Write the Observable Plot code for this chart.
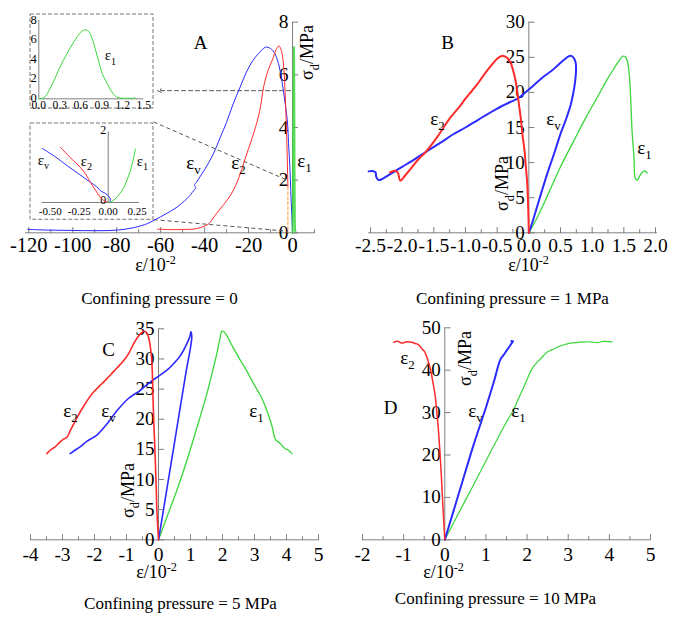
<!DOCTYPE html>
<html><head><meta charset="utf-8">
<script src="https://cdn.jsdelivr.net/npm/d3@7"></script>
<script src="https://cdn.jsdelivr.net/npm/@observablehq/plot@0.6"></script>
<style>
body{margin:0;background:#fff;}
#fig{position:relative;width:685px;height:621px;overflow:hidden;background:#fff;}
</style></head><body><div id="fig"></div>
<script>
// ---------- DATA (strain ×10^-2, deviatoric stress MPa) ----------
// Panel A: confining pressure = 0
const aEv = [[-120.5,0.13],[-110,0.1],[-100,0.09],[-90,0.08],[-80,0.1],[-72,0.2],[-66,0.35],[-62,0.52],[-58,0.7],[-53,0.95],[-48,1.3],[-45,1.6],[-44,1.72],[-44.6,1.8],[-43.5,1.95],[-40,2.4],[-36,3.0],[-33,3.6],[-30,4.2],[-27,4.9],[-24,5.5],[-21,6.1],[-18,6.55],[-15,6.85],[-12.3,7.05],[-10,7.0],[-8,6.8],[-6,6.3],[-4.7,5.7],[-3.5,5.0],[-2.4,4.3],[-1.8,3.4],[-1.2,2.5],[-0.8,1.6],[-0.4,0.8],[0,0]];
const aE2 = [[-61.5,0.14],[-55,0.12],[-50,0.13],[-45,0.14],[-41.8,0.2],[-38,0.35],[-35.8,0.6],[-33,0.9],[-29.7,1.25],[-27,1.6],[-24.4,2.1],[-22,2.7],[-20,3.2],[-17.6,3.8],[-15,4.6],[-13,5.6],[-11,6.2],[-9,6.6],[-7.5,6.95],[-6.2,7.1],[-5,6.9],[-4,6.3],[-3.3,5.2],[-2.7,3.8],[-2.3,2.5],[-2.1,1.75]];
const aE2tail = [[-2.1,1.75],[-2.1,0]];
const aE1 = [[0,0],[0.05,0.05],[0.1,0.3],[0.15,0.9],[0.2,1.6],[0.3,3.2],[0.4,4.6],[0.5,5.8],[0.6,6.8],[0.66,7.05],[0.71,6.9],[0.76,6.2],[0.81,5.0],[0.86,3.7],[0.91,2.5],[0.96,1.8],[1.01,1.1],[1.06,0.55],[1.11,0.2],[1.16,0.08],[1.25,0.05],[1.38,0.07]];
// Panel A lower inset (near origin)
const iEv = [[-0.569,1.53],[-0.45,1.28],[-0.353,1.04],[-0.25,0.8],[-0.153,0.57],[-0.1,0.45],[-0.066,0.33],[-0.03,0.27],[-0.01,0.22],[0.01,0.15],[0.02,0.07],[0.01,0]];
const iE2 = [[-0.411,1.56],[-0.33,1.28],[-0.239,0.99],[-0.19,0.78],[-0.153,0.57],[-0.11,0.35],[-0.066,0.14],[-0.03,0.04],[0,0]];
const iE1 = [[0,0],[0.03,0.03],[0.06,0.1],[0.1,0.25],[0.134,0.42],[0.17,0.7],[0.2,1.0],[0.235,1.51]];
// Panel B: 1 MPa
const bE2 = [[-2.19,8.6],[-2.12,8.85],[-2.07,8.6],[-2.03,7.45],[-1.95,8.2],[-1.85,9.3],[-1.75,10.4],[-1.63,11.5],[-1.45,13.6],[-1.24,16.4],[-1.1,17.9],[-1.0,19.1],[-0.9,20.2],[-0.82,21.1],[-0.74,22.1],[-0.66,23.1],[-0.58,24.0],[-0.5,24.8],[-0.44,25.15],[-0.4,25.2],[-0.34,24.9],[-0.29,24.3],[-0.25,23.2],[-0.21,21.7],[-0.17,19.2],[-0.13,16.5],[-0.1,14.0],[-0.068,11.7],[-0.045,9.2],[-0.025,7.0],[-0.01,3.5],[0,0]];
const bEv = [[-2.53,8.75],[-2.47,8.8],[-2.42,8.6],[-2.41,8.0],[-2.38,7.55],[-2.33,7.6],[-2.2,8.3],[-2.0,9.4],[-1.8,10.5],[-1.63,11.5],[-1.4,12.8],[-1.2,14.0],[-1.0,15.0],[-0.8,16.1],[-0.5,17.7],[-0.3,18.6],[-0.18,19.1],[-0.08,19.8],[0,20.4],[0.1,21.2],[0.24,22.3],[0.35,23.0],[0.45,23.8],[0.55,24.6],[0.62,25.1],[0.67,25.2],[0.71,24.9],[0.74,24.2],[0.745,23.0],[0.73,21.5],[0.7,19.8],[0.66,18.2],[0.58,16.0],[0.5,14.1],[0.4,11.3],[0.29,8.4],[0.2,5.8],[0.13,3.7],[0.06,1.6],[0,0]];
const bE1 = [[0,0],[0.1,1.6],[0.3,5.4],[0.5,9.4],[0.71,13.1],[0.9,16.4],[1.1,19.6],[1.24,21.9],[1.35,23.5],[1.43,24.6],[1.48,25.15],[1.52,25.1],[1.56,24.3],[1.59,22.0],[1.61,18.8],[1.63,14.5],[1.66,10.8],[1.68,7.8],[1.71,7.5],[1.75,8.1],[1.8,8.7],[1.84,8.8],[1.87,8.5]];
// Panel C: 5 MPa
const cE2 = [[-3.49,14.3],[-3.35,15.0],[-3.23,15.4],[-3.1,16.1],[-2.97,16.7],[-2.86,17.0],[-2.76,18.1],[-2.6,19.7],[-2.45,21.2],[-2.25,22.9],[-2.03,24.5],[-1.75,26.0],[-1.51,27.3],[-1.3,28.5],[-1.09,29.7],[-0.92,31.0],[-0.78,32.5],[-0.65,33.6],[-0.52,34.4],[-0.45,34.6],[-0.36,34.3],[-0.31,33.6],[-0.25,31.8],[-0.21,29.7],[-0.18,25.5],[-0.16,21.4],[-0.13,17.3],[-0.1,13.2],[-0.07,8.5],[-0.05,4.9],[-0.02,1.8],[0,0]];
const cEv = [[-2.76,14.3],[-2.6,14.9],[-2.45,15.4],[-2.25,16.3],[-2.03,17.0],[-1.9,17.5],[-1.6,19.3],[-1.3,21.4],[-0.95,23.4],[-0.57,24.8],[-0.25,26.2],[0.05,27.3],[0.3,28.3],[0.47,29.2],[0.65,30.3],[0.78,31.4],[0.9,32.7],[0.99,33.9],[1.01,34.5],[1.04,33.6],[0.86,27.8],[0.68,22.0],[0.5,16.1],[0.32,10.3],[0.15,4.8],[0,0]];
const cE1 = [[0,0],[0.3,4.3],[0.6,8.6],[0.89,13.2],[1.2,18.6],[1.51,24.2],[1.7,28.2],[1.82,30.8],[1.92,33.4],[1.98,34.6],[2.05,34.5],[2.13,33.9],[2.3,32.2],[2.5,30.3],[2.75,28.1],[2.97,25.9],[3.2,23.8],[3.39,21.4],[3.55,18.8],[3.65,16.7],[3.8,16.0],[3.96,15.1],[4.05,14.9],[4.17,14.3]];
// Panel D: 10 MPa
const dE2 = [[-1.24,46.6],[-1.15,46.8],[-1.05,46.4],[-0.92,46.7],[-0.8,46.6],[-0.72,46.3],[-0.67,46.2],[-0.6,45.6],[-0.55,45.0],[-0.5,44.5],[-0.45,43.5],[-0.4,42.0],[-0.35,40.3],[-0.3,37.8],[-0.24,34.4],[-0.2,30.8],[-0.16,26.6],[-0.13,22.5],[-0.105,18.7],[-0.08,14.5],[-0.057,10.1],[-0.03,5.2],[0,0]];
const dEv = [[0,0],[0.35,11.2],[0.7,22.4],[1.0,31.2],[1.2,37.5],[1.35,42.5],[1.43,43.6],[1.5,44.6],[1.56,45.4],[1.62,46.3],[1.64,46.6],[1.62,46.9],[1.66,46.8]];
const dE1 = [[0,0],[0.3,5.6],[0.7,13.0],[1.0,18.6],[1.3,24.2],[1.5,27.8],[1.68,30.8],[1.8,33.5],[1.92,36.0],[2.02,38.3],[2.12,40.3],[2.22,41.6],[2.33,42.7],[2.49,44.3],[2.6,44.8],[2.73,45.4],[2.9,46.0],[3.14,46.5],[3.3,46.6],[3.54,46.7],[3.7,46.5],[3.85,46.8],[4.07,46.7]];

// ---------- TICKS / LABELS ----------
const aXTicks = [-120,-100,-80,-60,-40,-20,0];
const aXMinor = [-110,-90,-70,-50,-30,-10,10];
const aYTicks = [0,2,4,6,8];
const bXTicks = [-2.5,-2.0,-1.5,-1.0,-0.5,0,0.5,1.0,1.5,2.0];
const bXMinor = [-2.25,-1.75,-1.25,-0.75,-0.25,0.25,0.75,1.25,1.75];
const bYTicks = [0,5,10,15,20,25,30];
const cXTicks = [-4,-3,-2,-1,0,1,2,3,4,5];
const cXMinor = [-3.5,-2.5,-1.5,-0.5,0.5,1.5,2.5,3.5,4.5];
const cYTicks = [0,5,10,15,20,25,30,35];
const dXTicks = [-2,-1,0,1,2,3,4,5];
const dXMinor = [-1.5,-0.5,0.5,1.5,2.5,3.5,4.5];
const dYTicks = [0,10,20,30,40,50];
const in1XTicks = [0,0.3,0.6,0.9,1.2,1.5];
const in1YTicks = [0,2,4,6,8];
const in2XTicks = [-0.5,-0.25,0,0.25];
const in2YTicks = [0,2];
const captions = ["Confining pressure = 0","Confining pressure = 1 MPa","Confining pressure = 5 MPa","Confining pressure = 10 MPa"];
const panelLetters = ["A","B","C","D"];
const xTitle = "ε/10^{-2}";
const yTitle = "σ_d/MPa";

// ---------- STYLE ----------
const RED="#ff2b2b", BLUE="#2b2bff", GREEN="#3ad63a", AX="#808080";
const FONT='"Liberation Serif","Times New Roman",Times,serif';
const fig = document.getElementById("fig");
const xy = {x: d => d[0], y: d => d[1]};

function axisMarks(P){
  const m = [Plot.ruleY([0],{stroke:AX}), Plot.ruleX([0],{stroke:AX})];
  const tick = (arr,len,rot,xf,yf) => Plot.vector(arr,{x:xf,y:yf,length:len,rotate:rot,anchor:"start",r:0,stroke:AX,strokeWidth:1});
  if (P.xMinor) m.push(tick(P.xMinor,3,0,d=>d,()=>0));
  if (P.tickMarks !== false){
    m.push(tick(P.xTicks,5,0,d=>d,()=>0));
    m.push(tick(P.yTicks,5,90,()=>0,d=>d));
  }
  m.push(Plot.text(P.xTicks,{x:d=>d,y:()=>0,text:P.fmtX,textAnchor:"middle",lineAnchor:"top",dy:P.xdy,fontSize:P.fs,fill:"black"}));
  m.push(Plot.text(P.yTicks,{x:()=>0,y:d=>d,text:d=>String(d),textAnchor:"end",lineAnchor:P.yLine||"middle",dx:P.ydx,dy:P.ydy||0,fontSize:P.yfs||P.fs,fill:"black"}));
  return m;
}
function lab(P,text,px,py,o={}){
  return Plot.text([text],{frameAnchor:"top-left",text:d=>d,textAnchor:"middle",lineAnchor:"middle",
    dx:px-P.fx0,dy:py-P.fy0,fontSize:18,fill:"black",...o});
}
function build(P, pre, marks){
  const svg = Plot.plot({
    width:P.w, height:P.h,
    marginLeft:P.fx0-P.left, marginRight:P.left+P.w-P.fx1,
    marginTop:P.fy0-P.top, marginBottom:P.top+P.h-P.fy1,
    x:{domain:P.xd, axis:null}, y:{domain:P.yd, axis:null},
    style:{fontFamily:FONT, background:"transparent", overflow:"visible", color:"black"},
    marks:[...pre, ...axisMarks(P), ...marks]
  });
  svg.style.position="absolute"; svg.style.left=P.left+"px"; svg.style.top=P.top+"px";
  fig.appendChild(svg);
  return svg;
}
const line = (data,stroke,w) => Plot.line(data,{...xy,stroke,strokeWidth:w,curve:"catmull-rom"});

// ---------- PANEL A ----------
const PA = {left:0,top:0,w:340,h:310,fx0:25,fx1:314,fy0:21.7,fy1:232.3,xd:[-121.5,10],yd:[0,8],
  xTicks:aXTicks,xMinor:aXMinor,yTicks:aYTicks,fmtX:d=>String(d),xdy:5,ydx:-4,fs:20.5,yfs:19.5};
build(PA, [], [
  Plot.link([{x1:-63.2,y1:4.21,x2:-2.4,y2:2.0},{x1:-63.2,y1:0.5,x2:-2.4,y2:0.06}],
    {x1:"x1",y1:"y1",x2:"x2",y2:"y2",stroke:"#555",strokeDasharray:"4,3",strokeWidth:1}),
  Plot.arrow([{x1:-0.9,y1:5.4,x2:-61.4,y2:5.4}],
    {x1:"x1",y1:"y1",x2:"x2",y2:"y2",stroke:"#555",strokeDasharray:"4,3",strokeWidth:1,headLength:6,headAngle:50}),
  line(aEv,BLUE,1), line(aE2,RED,1),
  Plot.line(aE2tail,{...xy,stroke:"#ff9933",strokeWidth:1,strokeDasharray:"3,2"}),
  Plot.line(aE1,{...xy,stroke:GREEN,strokeWidth:2,strokeOpacity:0.85}),
  lab(PA,panelLetters[0],200,42,{fontSize:19}),
  lab(PA,"ε_v",193,162,{fontSize:19}), lab(PA,"ε_2",238,162,{fontSize:19}), lab(PA,"ε_1",304,160,{fontSize:19}),
  lab(PA,yTitle,307,52,{rotate:-90,fontSize:18}),
  lab(PA,xTitle,155,265,{fontSize:18}),
  lab(PA,captions[0],159,298,{fontSize:17})
]);

// inset 1
const PI1 = {left:29,top:13,w:124,h:95,fx0:38.3,fx1:143.3,fy0:20,fy1:98.3,xd:[0,1.5],yd:[0,8],
  xTicks:in1XTicks,yTicks:in1YTicks,fmtX:d=>d.toFixed(1),xdy:2.5,ydx:-2,ydy:-1,fs:11.5,yfs:12.5,tickMarks:false};
build(PI1, [Plot.frame({fill:"white",stroke:"#777",strokeDasharray:"4,2",
    insetLeft:-(PI1.fx0-PI1.left)+0.5,insetRight:-(PI1.left+PI1.w-PI1.fx1)+0.5,
    insetTop:-(PI1.fy0-PI1.top)+0.5,insetBottom:-(PI1.top+PI1.h-PI1.fy1)+0.5})], [
  line(aE1,GREEN,1),
  lab(PI1,"ε_1",110,55,{fontSize:15})
]);
// inset 2
const PI2 = {left:29,top:121.7,w:124,h:97.3,fx0:41.6,fx1:139,fy0:131,fy1:201.7,xd:[-0.57,0.27],yd:[0,2],
  xTicks:in2XTicks,yTicks:in2YTicks,fmtX:d=>d.toFixed(2),xdy:5,ydx:-2,ydy:-2,fs:11,yfs:12,tickMarks:false};
build(PI2, [Plot.frame({fill:"white",stroke:"#777",strokeDasharray:"4,2",
    insetLeft:-(PI2.fx0-PI2.left)+0.5,insetRight:-(PI2.left+PI2.w-PI2.fx1)+0.5,
    insetTop:-(PI2.fy0-PI2.top)+0.5,insetBottom:-(PI2.top+PI2.h-PI2.fy1)+0.5})], [
  line(iEv,BLUE,1), line(iE2,RED,1), line(iE1,GREEN,1),
  lab(PI2,"ε_v",43,159,{fontSize:15}), lab(PI2,"ε_2",86,160,{fontSize:15}), lab(PI2,"ε_1",142,160,{fontSize:15})
]);

// ---------- PANEL B ----------
const PB = {left:340,top:0,w:345,h:310,fx0:368.1,fx1:656.9,fy0:21.7,fy1:232.3,xd:[-2.53,2.03],yd:[0,30],
  xTicks:bXTicks,xMinor:bXMinor,yTicks:bYTicks,fmtX:d=>d.toFixed(1),xdy:5,ydx:-4,fs:19.5,yfs:19};
build(PB, [], [
  line(bE1,GREEN,1.3), line(bEv,BLUE,2), line(bE2,RED,2),
  lab(PB,panelLetters[1],447,42,{fontSize:19}),
  lab(PB,"ε_2",437,118,{fontSize:19}), lab(PB,"ε_v",553,118,{fontSize:19}), lab(PB,"ε_1",644,147,{fontSize:19}),
  lab(PB,yTitle,502,183,{rotate:-90,fontSize:18}),
  lab(PB,xTitle,528,265,{fontSize:18}),
  lab(PB,captions[1],512,298,{fontSize:17})
]);

// ---------- PANEL C ----------
const PC = {left:0,top:310,w:340,h:311,fx0:30,fx1:318,fy0:328.3,fy1:539.3,xd:[-4,5],yd:[0,35],
  xTicks:cXTicks,xMinor:cXMinor,yTicks:cYTicks,fmtX:d=>String(d),xdy:7,ydx:-4,fs:19.5,yfs:19};
build(PC, [], [
  line(cE1,GREEN,1.3), line(cEv,BLUE,1.6), line(cE2,RED,1.6),
  lab(PC,panelLetters[2],108,349,{fontSize:19}),
  lab(PC,"ε_2",70,410,{fontSize:19}), lab(PC,"ε_v",108,410,{fontSize:19}), lab(PC,"ε_1",256,410,{fontSize:19}),
  lab(PC,yTitle,127.5,490,{rotate:-90,fontSize:18}),
  lab(PC,xTitle,156,572,{fontSize:18}),
  lab(PC,captions[2],180,603,{fontSize:17})
]);

// ---------- PANEL D ----------
const PD = {left:340,top:310,w:345,h:311,fx0:362,fx1:650,fy0:327.3,fy1:539.3,xd:[-2,5],yd:[0,50],
  xTicks:dXTicks,xMinor:dXMinor,yTicks:dYTicks,fmtX:d=>String(d),xdy:7,ydx:-4,fs:19.5,yfs:19};
build(PD, [], [
  line(dE1,GREEN,1.2), line(dEv,BLUE,2), line(dE2,RED,1.5),
  lab(PD,panelLetters[3],390,407,{fontSize:19}),
  lab(PD,"ε_2",407,357,{fontSize:19}), lab(PD,"ε_v",475,410,{fontSize:19}), lab(PD,"ε_1",518,410,{fontSize:19}),
  lab(PD,yTitle,465,358,{rotate:-90,fontSize:18}),
  lab(PD,xTitle,443,572,{fontSize:18}),
  lab(PD,captions[3],495,598,{fontSize:17})
]);

// ---------- sub/superscripts as tspans ----------
const NS="http://www.w3.org/2000/svg";
fig.querySelectorAll("text").forEach(t=>{
  const s=t.textContent; if(!/[_^]/.test(s)) return;
  const fs=parseFloat(getComputedStyle(t).fontSize)||16;
  while(t.firstChild) t.removeChild(t.firstChild);
  let shift=0;
  const add=(str,off)=>{
    const ts=document.createElementNS(NS,"tspan");
    const dy=off*fs-shift; if(dy) ts.setAttribute("dy",dy);
    if(off) ts.setAttribute("font-size",(fs*0.68).toFixed(1));
    ts.textContent=str; shift=off*fs; t.appendChild(ts);
  };
  const re=/([_^])(\{([^}]*)\}|(.))/g; let last=0,m;
  while((m=re.exec(s))){
    if(m.index>last) add(s.slice(last,m.index),0);
    add(m[3]!==undefined?m[3]:m[4], m[1]==="_"?0.3:-0.42);
    last=re.lastIndex;
  }
  if(last<s.length) add(s.slice(last),0);
});
</script></body></html>
